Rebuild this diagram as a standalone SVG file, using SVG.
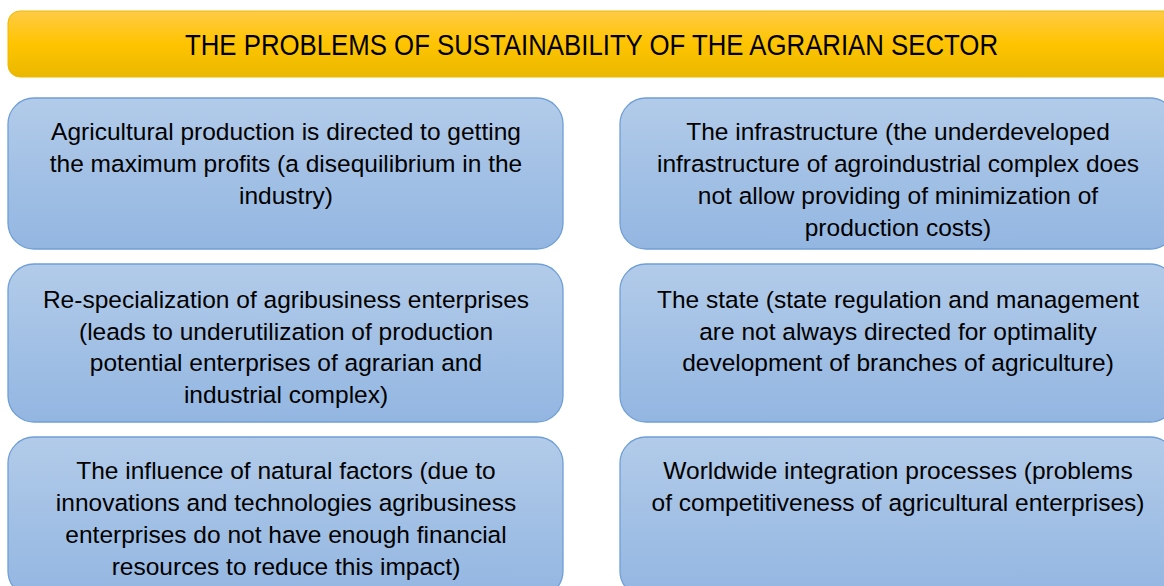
<svg xmlns="http://www.w3.org/2000/svg" width="1164" height="586" viewBox="0 0 1164 586">
<defs>
<linearGradient id="gy" x1="0" y1="0" x2="0" y2="1">
<stop offset="0" stop-color="#FFCB45"/>
<stop offset="0.5" stop-color="#FFC400"/>
<stop offset="1" stop-color="#E9B800"/>
</linearGradient>
<linearGradient id="gb" x1="0" y1="0" x2="0" y2="1">
<stop offset="0" stop-color="#B2CBE9"/>
<stop offset="1" stop-color="#93B6E1"/>
</linearGradient>
</defs>
<style>
.box{fill:url(#gb);stroke:#6F9FD6;stroke-width:1.3}
.t{font-family:"Liberation Sans",Arial,sans-serif;font-size:24.5px;fill:#000;text-anchor:middle}
.title{font-family:"Liberation Sans",Arial,sans-serif;font-size:30px;fill:#000;text-anchor:middle}
</style>
<rect width="1164" height="586" fill="#fff"/>
<g id="title">
<rect x="8" y="11" width="1170" height="66" rx="12" fill="url(#gy)" stroke="#F0B800" stroke-width="1"/>
<text class="title" x="591.5" y="55" textLength="813" lengthAdjust="spacingAndGlyphs">THE PROBLEMS OF SUSTAINABILITY OF THE AGRARIAN SECTOR</text>
</g>
<g id="n1">
<rect class="box" x="8" y="98" width="555" height="151" rx="26"/>
<text class="t"><tspan x="286" y="140">Agricultural production is directed to getting</tspan><tspan x="286" y="172">the maximum profits (a disequilibrium in the</tspan><tspan x="286" y="204">industry)</tspan></text>
</g>
<g id="n2">
<rect class="box" x="620" y="98" width="556" height="151" rx="26"/>
<text class="t"><tspan x="898" y="140">The infrastructure (the underdeveloped</tspan><tspan x="898" y="172">infrastructure of agroindustrial complex does</tspan><tspan x="898" y="204">not allow providing of minimization of</tspan><tspan x="898" y="236">production costs)</tspan></text>
</g>
<g id="n3">
<rect class="box" x="8" y="264" width="555" height="158" rx="26"/>
<text class="t"><tspan x="286" y="308">Re-specialization of agribusiness enterprises</tspan><tspan x="286" y="340">(leads to underutilization of production</tspan><tspan x="286" y="371">potential enterprises of agrarian and</tspan><tspan x="286" y="403">industrial complex)</tspan></text>
</g>
<g id="n4">
<rect class="box" x="620" y="264" width="556" height="158" rx="26"/>
<text class="t"><tspan x="898" y="308">The state (state regulation and management</tspan><tspan x="898" y="340">are not always directed for optimality</tspan><tspan x="898" y="371">development of branches of agriculture)</tspan></text>
</g>
<g id="n5">
<rect class="box" x="8" y="437" width="555" height="160" rx="26"/>
<text class="t"><tspan x="286" y="479">The influence of natural factors (due to</tspan><tspan x="286" y="511">innovations and technologies agribusiness</tspan><tspan x="286" y="543">enterprises do not have enough financial</tspan><tspan x="286" y="575">resources to reduce this impact)</tspan></text>
</g>
<g id="n6">
<rect class="box" x="620" y="437" width="556" height="160" rx="26"/>
<text class="t"><tspan x="898" y="479">Worldwide integration processes (problems</tspan><tspan x="898" y="511">of competitiveness of agricultural enterprises)</tspan></text>
</g>
<g id="connectors"/>
</svg>
